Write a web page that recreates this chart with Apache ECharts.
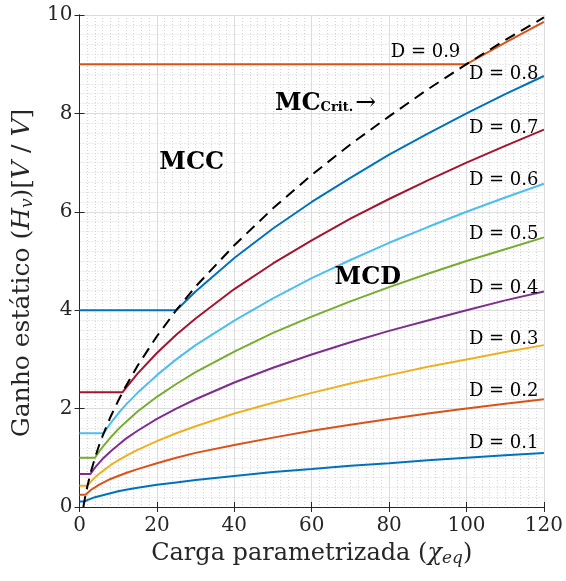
<!DOCTYPE html>
<html><head><meta charset="utf-8">
<script src="https://cdn.jsdelivr.net/npm/echarts@6/dist/echarts.min.js"></script>
<style>html,body{margin:0;padding:0;background:#fff}#c{width:566px;height:581px}</style>
</head><body><div id="c"></div>
<script>
// load parameter sample points (x)
const chi = [1, 1.5, 2, 3, 4, 5, 6, 8, 10, 12, 15, 20, 25, 30, 40, 50, 60, 70, 80, 90, 100, 110, 120];
const dutyLabels = ['D = 0.1','D = 0.2','D = 0.3','D = 0.4','D = 0.5','D = 0.6','D = 0.7','D = 0.8','D = 0.9'];
// CCM/DCM boundary (knee) per duty cycle and CCM gain
const kneeChi = [1.23, 1.56, 2.04, 2.78, 4, 6.25, 11.1, 25, 100];
const ccmGain = [0.11, 0.25, 0.43, 0.67, 1.00, 1.50, 2.33, 4.00, 9.00];
// DCM gain read at chi sample points
const g01 = [0.10,0.12,0.14,0.17,0.20,0.22,0.24,0.28,0.32,0.35,0.39,0.45,0.50,0.55,0.63,0.71,0.77,0.84,0.89,0.95,1.00,1.05,1.10];
const g02 = [0.20,0.24,0.28,0.35,0.40,0.45,0.49,0.57,0.63,0.69,0.77,0.89,1.00,1.10,1.26,1.41,1.55,1.67,1.79,1.90,2.00,2.10,2.19];
const g03 = [0.30,0.37,0.42,0.52,0.60,0.67,0.73,0.85,0.95,1.04,1.16,1.34,1.50,1.64,1.90,2.12,2.32,2.51,2.68,2.85,3.00,3.15,3.29];
const g04 = [0.40,0.49,0.57,0.69,0.80,0.89,0.98,1.13,1.26,1.39,1.55,1.79,2.00,2.19,2.53,2.83,3.10,3.35,3.58,3.79,4.00,4.20,4.38];
const g05 = [0.50,0.61,0.71,0.87,1.00,1.12,1.22,1.41,1.58,1.73,1.94,2.24,2.50,2.74,3.16,3.54,3.87,4.18,4.47,4.74,5.00,5.24,5.48];
const g06 = [0.60,0.73,0.85,1.04,1.20,1.34,1.47,1.70,1.90,2.08,2.32,2.68,3.00,3.29,3.79,4.24,4.65,5.02,5.37,5.69,6.00,6.29,6.57];
const g07 = [0.70,0.86,0.99,1.21,1.40,1.57,1.71,1.98,2.21,2.42,2.71,3.13,3.50,3.83,4.43,4.95,5.42,5.86,6.26,6.64,7.00,7.34,7.67];
const g08 = [0.80,0.98,1.13,1.39,1.60,1.79,1.96,2.26,2.53,2.77,3.10,3.58,4.00,4.38,5.06,5.66,6.20,6.69,7.16,7.59,8.00,8.39,8.76];
const g09 = [0.90,1.10,1.27,1.56,1.80,2.01,2.20,2.55,2.85,3.12,3.49,4.02,4.50,4.93,5.69,6.36,6.97,7.53,8.05,8.54,9.00,9.44,9.86];
// critical boundary curve
const crit = [0.00,0.22,0.41,0.73,1.00,1.24,1.45,1.83,2.16,2.46,2.87,3.47,4.00,4.48,5.32,6.07,6.75,7.37,7.94,8.49,9.00,9.49,9.95];
// annotation anchors (data units): right edge x, vertical centre y
const dLabelX = [118.6, 118.6, 118.6, 118.6, 118.6, 118.6, 118.6, 118.6, 98.4];
const dLabelY = [1.30, 2.36, 3.41, 4.45, 5.55, 6.63, 7.70, 8.80, 9.25];

const gains = [g01,g02,g03,g04,g05,g06,g07,g08,g09];
const colors = ['#0072BD','#D95319','#EDB120','#7E2F8E','#77AC30','#4DBEEE','#A2142F','#0072BD','#D95319'];
const FONT = 'DejaVu Serif';
const AX = '#262626';

const series = gains.map((g, i) => {
  const data = [[0, ccmGain[i]], [kneeChi[i], ccmGain[i]]];
  chi.forEach((c, k) => { if (c > kneeChi[i]) data.push([c, g[k]]); });
  return {type:'line', name: dutyLabels[i], data, showSymbol:false, symbol:'none',
    lineStyle:{color:colors[i], width:2}, z:2, animation:false, silent:true};
});
series.push({type:'line', name:'crit', data: chi.map((c,k)=>[c, crit[k]]), symbol:'none',
  lineStyle:{color:'#000', width:2, type:[11,7]}, z:5, animation:false, silent:true});

const chart = echarts.init(document.getElementById('c'), null, {renderer:'canvas'});
const baseAxis = {
  axisLine:{show:true, lineStyle:{color:AX, width:1}},
  axisTick:{show:true, inside:true, length:5, lineStyle:{color:AX}},
};
chart.setOption({
  animation:false,
  backgroundColor:'#fff',
  grid:{left:79.5, right:17.5, top:15, bottom:74, containLabel:false},
  xAxis:[{
    type:'value', min:0, max:120, interval:20, position:'bottom',
    ...baseAxis,
    axisLabel:{color:AX, fontFamily:FONT, fontSize:20, margin:9},
    splitLine:{show:true, lineStyle:{color:'#dcdcdc', width:1}},
    minorTick:{show:false, splitNumber:10},
    minorSplitLine:{show:true, lineStyle:{color:'#d4d4d4', width:1, type:[1,2]}},
    name:'{n|Carga parametrizada (}{i|χ}{s|eq}{n|)}', nameLocation:'middle', nameGap:33,
    nameTextStyle:{rich:{
      n:{fontFamily:FONT, fontSize:24, color:AX},
      i:{fontFamily:FONT, fontSize:24, fontStyle:'italic', color:AX},
      s:{fontFamily:FONT, fontSize:17, fontStyle:'italic', color:AX, padding:[10,0,0,0]}
    }}
  },{
    type:'value', min:0, max:120, interval:20, position:'top',
    ...baseAxis, axisLabel:{show:false}, splitLine:{show:false}
  }],
  yAxis:[{
    type:'value', min:0, max:10, interval:2, position:'left',
    ...baseAxis,
    axisLabel:{color:AX, fontFamily:FONT, fontSize:20, margin:7},
    splitLine:{show:true, lineStyle:{color:'#dcdcdc', width:1}},
    minorTick:{show:false, splitNumber:10},
    minorSplitLine:{show:true, lineStyle:{color:'#d4d4d4', width:1, type:[1,2]}},
    name:'{n|Ganho estático (}{i|H}{s|v}{n|)[}{i|V}{n| / }{i|V}{n|]}', nameLocation:'middle', nameGap:36,
    nameTextStyle:{padding:[0,24,0,0], rich:{
      n:{fontFamily:FONT, fontSize:25, color:AX},
      i:{fontFamily:FONT, fontSize:25, fontStyle:'italic', color:AX},
      s:{fontFamily:FONT, fontSize:17, fontStyle:'italic', color:AX, padding:[10,0,0,0]}
    }}
  },{
    type:'value', min:0, max:10, interval:2, position:'right',
    ...baseAxis, axisLabel:{show:false}, splitLine:{show:false}
  }],
  series
});

const px = (x,y) => chart.convertToPixel({xAxisIndex:0, yAxisIndex:0}, [x,y]);
const elements = [];
dutyLabels.forEach((t,i) => {
  const p = px(dLabelX[i], dLabelY[i]);
  elements.push({type:'text', x:p[0], y:p[1], z:20,
    style:{text:t, fill:'#000', font:'18px "'+FONT+'"', align:'right', verticalAlign:'middle'}});
});
const pMCC = px(29, 7.0);
elements.push({type:'text', x:pMCC[0], y:pMCC[1], z:20,
  style:{text:'MCC', fill:'#000', font:'bold 24px "'+FONT+'"', align:'center', verticalAlign:'middle'}});
const pMCD = px(74.5, 4.65);
elements.push({type:'text', x:pMCD[0], y:pMCD[1], z:20,
  style:{text:'MCD', fill:'#000', font:'bold 24px "'+FONT+'"', align:'center', verticalAlign:'middle'}});
const pCrit = px(50.5, 8.2);
elements.push({type:'text', x:pCrit[0], y:pCrit[1], z:20,
  style:{text:'{b|MC}{s|Crit.}{a|→}', align:'left', verticalAlign:'middle',
    rich:{
      b:{fontFamily:FONT, fontWeight:'bold', fontSize:24, fill:'#000'},
      s:{fontFamily:FONT, fontWeight:'bold', fontSize:13, fill:'#000', padding:[9,0,0,0]},
      a:{fontFamily:FONT, fontSize:25, fill:'#000', padding:[0,0,0,2]}
    }}});
chart.setOption({graphic:{elements}});
</script>
</body></html>
